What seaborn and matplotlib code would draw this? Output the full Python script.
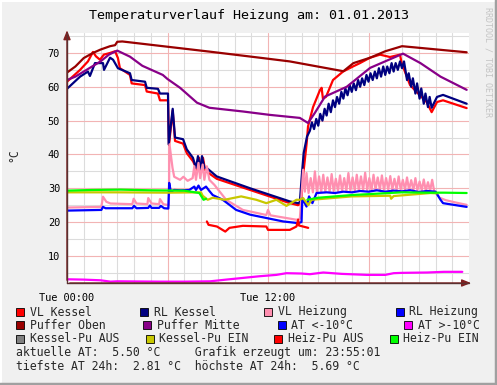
import matplotlib
matplotlib.use("Agg")
import matplotlib.pyplot as plt
import seaborn as sns
import numpy as np
from matplotlib.patches import Rectangle
from matplotlib.lines import Line2D

sns.set_theme(style="white")
plt.rcParams['font.family'] = ['DejaVu Sans Mono', 'DejaVu Sans']

# ---------------- data (hours since Tue 00:00, °C) ----------------
vlk_h = [0.0, 0.78, 1.25, 1.55, 1.73, 1.97, 2.2, 2.57, 2.87, 3.04, 3.16, 3.76, 3.86, 4.66, 4.76, 5.43, 5.55, 6.03,
         6.09, 6.31, 6.45, 6.93, 7.15, 7.52, 7.76, 7.88, 8.0, 8.12, 8.24, 8.34, 8.94, 10.93, 13.31, 13.79, 13.97,
         14.09, 14.31, 14.39, 14.69, 15.1, 15.2, 15.28, 15.46, 15.88, 16.48, 17.07, 17.49, 18.09, 18.69, 19.28,
         19.88, 19.98, 20.48, 20.87, 21.47, 21.77, 22.09, 22.45, 23.86]
vlk_v = [61.5, 65, 67.5, 70.3, 69, 68, 69.5, 70, 70.5, 68.5, 65.5, 63.5, 61, 60.5, 58.6, 58, 56, 56,
         42.8, 53, 44, 43.2, 40.4, 38, 35.5, 39, 35, 39, 35.5, 34.9, 32.8, 29.5, 25.6, 25, 25.5,
         33.5, 43.4, 48.3, 54, 59, 59.7, 56.5, 57, 62, 64.5, 66, 67, 68.6, 69.5, 68.8,
         69.5, 67, 60.5, 58.5, 55.5, 52.5, 55.5, 56, 53.7]

rlk_h = [0.0, 0.78, 1.25, 1.37, 1.67, 2.15, 2.21, 2.57, 2.75, 3.04, 3.76, 3.86, 4.66, 4.76, 5.43, 5.55, 6.03,
         6.07, 6.31, 6.45, 6.93, 7.15, 7.52, 7.7, 7.82, 7.95, 8.06, 8.2, 8.34, 8.94, 10.93, 13.31, 13.79, 13.9,
         14.03, 14.13, 14.33, 14.5, 14.62, 14.75, 14.88, 15.0, 15.12, 15.25, 15.38, 15.5, 15.62, 15.75, 15.88,
         16.0, 16.12, 16.25, 16.38, 16.5, 16.62, 16.75, 16.88, 17.0, 17.12, 17.25, 17.38, 17.5, 17.62, 17.75,
         17.88, 18.0, 18.12, 18.25, 18.38, 18.5, 18.62, 18.75, 18.88, 19.0, 19.12, 19.25, 19.38, 19.5, 19.62,
         19.75, 19.88, 20.0, 20.12, 20.3, 20.4, 20.55, 20.65, 20.8, 20.9, 21.05, 21.15, 21.3, 21.4, 21.55,
         21.65, 21.77, 22.09, 22.45, 23.86]
rlk_v = [59.4, 63, 64.5, 63.2, 67, 67, 65, 68.6, 68, 65.5, 64, 62, 61.5, 59.7, 59.4, 58, 58,
         43, 53.5, 45, 44.5, 41.5, 39, 36, 39.5, 35.5, 39.5, 36, 36, 33.5, 30, 26.1, 25.6, 25.8,
         34.5, 40.4, 45.3, 47, 49.5, 47.5, 50.5, 48.5, 52, 50, 53.5, 51.5, 55, 52.5, 56,
         54, 57, 55, 58.5, 56.5, 59.5, 57.5, 60.5, 58.5, 61, 59, 62, 60, 62.5, 60.5,
         63.5, 61.5, 64, 62, 64.5, 62.5, 65.5, 63, 66, 63.5, 66, 64, 67, 64.5, 67,
         65, 67.5, 65.5, 67.5, 62, 64, 60, 62.5, 58, 61, 56.5, 59.5, 55, 58, 54,
         57, 53.8, 57, 57.6, 55]

vlh_h = [0.0, 2.05, 2.15, 2.35, 2.6, 3.9, 3.98, 4.15, 4.8, 4.85, 5.05, 5.5, 5.55, 5.75, 6.08,
         6.12, 6.3, 6.4, 6.75, 6.95, 7.2, 7.5, 7.6, 7.7, 7.85, 7.95, 8.1, 8.2, 8.35, 8.5, 8.8, 9.5,
         10.5, 11.9, 12.0, 12.15, 13.7, 13.9,
         14.0, 14.1, 14.2, 14.3, 14.42, 14.55, 14.68, 14.8, 14.92, 15.05, 15.18, 15.3, 15.42, 15.55, 15.68,
         15.8, 15.92, 16.05, 16.18, 16.3, 16.42, 16.55, 16.68, 16.8, 16.92, 17.05, 17.18, 17.3, 17.42, 17.55,
         17.68, 17.8, 17.92, 18.05, 18.18, 18.3, 18.42, 18.55, 18.68, 18.8, 18.92, 19.05, 19.18, 19.3, 19.42,
         19.55, 19.68, 19.8, 19.92, 20.05, 20.18, 20.3, 20.42, 20.55, 20.68, 20.8, 20.92, 21.05, 21.18, 21.3,
         21.42, 21.55, 21.68, 21.8, 21.92, 22.05, 22.25, 22.6, 23.2, 23.86]
vlh_v = [24.3, 24.5, 27.5, 26, 25.5, 25.3, 26.9, 25.5, 25.3, 27.1, 25.5, 25.3, 26.8, 25.3, 25,
         43, 36, 33.4, 32.5, 33.4, 32.2, 33, 36.5, 32.5, 37.5, 33, 37, 32.5, 36.5, 32.5, 31, 26.6,
         23.6, 22.1, 23.6, 22, 20.7, 21,
         28.0, 35.5, 29.0, 34.5, 28.6, 33.0, 28.8, 35.0, 28.8, 33.5, 29.0, 34.0, 29.0, 33.2, 29.0,
         34.2, 29.2, 32.8, 29.2, 33.8, 29.2, 33.0, 29.3, 34.5, 29.3, 33.2, 29.4, 34.0, 29.4, 33.5,
         29.5, 34.6, 29.5, 33.0, 29.5, 34.0, 29.6, 33.2, 29.6, 33.8, 29.6, 33.0, 29.6, 33.6, 29.6,
         32.8, 29.6, 33.5, 29.6, 32.5, 29.6, 33.2, 29.5, 32.4, 29.5, 33.0, 29.4, 32.0, 29.4, 32.6,
         29.3, 31.8, 29.3, 32.5, 29.2, 28.5, 27.2, 26.5, 25.8, 25.1]

rlh_h = [0.0, 2.05, 2.15, 2.3, 3.9, 4.0, 4.15, 4.85, 4.95, 5.05, 5.5, 5.6, 5.8, 6.05, 6.1, 6.2, 6.4, 6.8,
         7.3, 7.6, 7.7, 7.85, 8.0, 8.3, 8.5, 8.7, 9.3, 10.1, 10.93, 12.9, 13.8, 14.0, 14.05, 14.3, 14.45,
         14.65, 14.9, 15.5, 16.0, 16.5, 17.0, 17.5, 18.0, 18.5, 19.0, 19.5, 20.0, 20.5, 21.0, 21.5, 22.0,
         22.3, 22.45, 23.86]
rlh_v = [23.4, 23.6, 24.5, 24.1, 24.1, 24.8, 24.1, 24.2, 24.9, 24.2, 24.2, 24.8, 24.1, 24.0, 31.6, 29, 29.5, 29.4,
         29.5, 30.5, 29.5, 30.8, 29.5, 30.5, 29.2, 28, 26.6, 23.6, 22.2, 20.2, 19.7, 20, 27, 24.6, 27.6,
         25.6, 28.6, 28.8, 28.6, 29.0, 28.8, 29.2, 29.0, 29.4, 29.0, 29.3, 29.1, 29.4, 28.9, 29.2, 29.0,
         26.6, 25.6, 24.5]

po_h = [0.0, 0.5, 1.0, 1.55, 2.0, 2.57, 2.87, 3.0, 3.3, 8.5, 11.5, 13.3, 16.5, 16.6, 17.1, 18.1, 19.0, 20.0, 23.86]
po_v = [64.2, 66, 68.5, 70, 71, 72, 72.3, 73.3, 73.4, 70.4, 68.6, 67.5, 64.6, 65, 67, 68.6, 70.5, 72, 70.2]

pm_h = [0.0, 0.5, 1.0, 1.5, 2.0, 2.5, 3.0, 3.76, 4.5, 5.72, 6.0, 6.75, 7.76, 8.5, 10.5, 12.1, 13.9, 14.39,
        14.8, 15.4, 16.7, 18.1, 20.06, 21.1, 22.3, 23.86]
pm_v = [62, 63, 64.5, 66, 67.5, 69.5, 70.7, 68.9, 66.2, 63.5, 62.3, 59.7, 55.3, 53.8, 52.7, 51.7, 50.8, 49.3,
        52.3, 57.1, 60, 65.6, 69.8, 67, 63, 59.1]

at_h = [0.0, 1.0, 2.0, 2.6, 3.0, 5.55, 7.0, 8.55, 9.5, 10.5, 11.5, 12.5, 13.1, 14.0, 14.5, 15.3, 16.4, 17.9,
        19.0, 19.5, 20.0, 21.5, 22.5, 23.6]
at_v = [3.1, 3.0, 2.8, 2.4, 2.5, 2.4, 2.4, 2.5, 3.0, 3.5, 4.0, 4.4, 4.9, 4.8, 4.6, 5.1, 4.7, 4.4,
        4.4, 4.9, 5.0, 5.1, 5.3, 5.3]

kpe_h = [0.0, 3.0, 6.0, 8.0, 8.1, 8.4, 8.7, 9.4, 10.4, 11.3, 11.9, 12.5, 13.1, 13.7, 13.9, 14.1, 14.4,
         14.6, 17.0, 19.3, 19.35, 19.5, 21.7, 22.1]
kpe_v = [28.8, 28.8, 28.7, 28.8, 27.8, 26.6, 27.2, 26.6, 27.6, 26.6, 25.6, 26.6, 24.8, 26.6, 26.6, 27.1, 25.0,
         26.6, 27.6, 27.8, 26.9, 27.7, 28.6, 28.5]

hpa_h = [8.35, 8.45, 8.95, 9.45, 9.7, 10.5, 11.9, 12.0, 13.3, 13.7, 13.8, 13.85, 14.4]
hpa_v = [20.2, 19.2, 18.7, 17.2, 18.3, 18.9, 18.7, 17.7, 17.7, 18.7, 20.7, 19.0, 18.3]

hpe1_h = [0.0, 1.5, 3.2, 5.0, 7.0, 7.9, 8.15, 8.3]
hpe1_v = [29.3, 29.5, 29.6, 29.4, 29.3, 28.6, 26.6, 26.9]
hpe2_h = [14.35, 15.0, 16.0, 17.0, 18.5, 20.0, 21.5, 22.5, 23.86]
hpe2_v = [26.6, 27.2, 27.6, 28.0, 28.4, 28.8, 28.7, 28.7, 28.6]

legend_labels = ["VL Kessel", "RL Kessel", "VL Heizung", "RL Heizung",
                 "Puffer Oben", "Puffer Mitte", "AT <-10°C", "AT >-10°C",
                 "Kessel-Pu AUS", "Kessel-Pu EIN", "Heiz-Pu AUS", "Heiz-Pu EIN"]
legend_colors = ["#ff0000", "#000080", "#ff8fb0", "#0000ff",
                 "#990000", "#880088", "#0000ff", "#ff00ff",
                 "#808080", "#c8c800", "#ff0000", "#00ff00"]

x_tick_pos = [0, 12]
x_tick_lab = ["Tue 00:00", "Tue 12:00"]
y_ticks = [10, 20, 30, 40, 50, 60, 70]

# ---------------- figure ----------------
W, H = 497, 385
fig = plt.figure(figsize=(W / 100, H / 100), dpi=100)
fig.patch.set_facecolor("#f0f0f0")

def fx(x):
    return x / W

def fy(y):
    return 1 - y / H

ax = fig.add_axes([fx(67), fy(283), (469 - 67) / W, (283 - 33) / H])
ax.set_facecolor("white")
ax.set_xlim(0, 24)
ax.set_ylim(2.0, 75.9)

# grid
for h in range(0, 25):
    if h % 6 == 0:
        continue
    ax.axvline(h, color="#dcdcdc", lw=0.8, zorder=0)
for v in range(5, 76, 10):
    ax.axhline(v, color="#dcdcdc", lw=0.8, zorder=0)
for h in [6, 12, 18]:
    ax.axvline(h, color="#f2b4b4", lw=0.8, zorder=0.5)
for v in range(10, 76, 10):
    ax.axhline(v, color="#f2b4b4", lw=0.8, zorder=0.5)

lw = 1.6
series = [
    (vlk_h, vlk_v, legend_colors[0]),
    (rlk_h, rlk_v, legend_colors[1]),
    (vlh_h, vlh_v, legend_colors[2]),
    (rlh_h, rlh_v, legend_colors[3]),
    (po_h, po_v, legend_colors[4]),
    (pm_h, pm_v, legend_colors[5]),
    (at_h, at_v, legend_colors[7]),
    (kpe_h, kpe_v, legend_colors[9]),
    (hpa_h, hpa_v, legend_colors[10]),
    (hpe1_h, hpe1_v, legend_colors[11]),
    (hpe2_h, hpe2_v, legend_colors[11]),
]
for xs, ys, c in series:
    sns.lineplot(x=xs, y=ys, ax=ax, color=c, linewidth=lw, sort=False, estimator=None)

for s in ax.spines.values():
    s.set_visible(False)

ax.set_xticks(x_tick_pos)
ax.set_xticklabels(x_tick_lab, fontsize=7.4)
ax.set_yticks(y_ticks)
ax.set_yticklabels([str(v) for v in y_ticks], fontsize=7.4)
ax.tick_params(axis="both", length=0, pad=5, colors="#000000")
ax.tick_params(axis="x", pad=7)
ax.set_xlabel("")
ax.set_ylabel("")

# axes with arrows
arrow_c = "#802020"
ax.annotate("", xy=(0, 1.022), xytext=(0, 0), xycoords="axes fraction",
            arrowprops=dict(arrowstyle="-|>,head_length=0.45,head_width=0.18", color=arrow_c, lw=1.0),
            annotation_clip=False)
ax.annotate("", xy=(1.012, 0), xytext=(0, 0), xycoords="axes fraction",
            arrowprops=dict(arrowstyle="-|>,head_length=0.45,head_width=0.18", color=arrow_c, lw=1.0),
            annotation_clip=False)
ax.plot([0, 0], [0, 1], transform=ax.transAxes, color="#5a3030", lw=1.0, clip_on=False, zorder=5)
ax.plot([0, 1], [0, 0], transform=ax.transAxes, color="#5a3030", lw=1.0, clip_on=False, zorder=5)

# title etc.
fig.text(fx(249), fy(16), "Temperaturverlauf Heizung am: 01.01.2013", ha="center", va="center",
         fontsize=9.6, color="#000000")
fig.text(fx(14), fy(155), "°C", rotation=90, ha="center", va="center", fontsize=8.3)
fig.text(fx(488), fy(62), "RRDTOOL / TOBI OETIKER", rotation=270, ha="center", va="center",
         fontsize=6.0, color="#c4c4c4")

# legend
rows_y = [312, 325.3, 339]
box_x = [[16, 140, 264.3, 396], [16, 143.3, 277.7, 404.3], [16, 145.7, 274.3, 390]]
txt_x = [[30, 154, 278.3, 409], [30, 157.3, 291, 417.7], [30, 159.3, 288.3, 403.3]]
for r in range(3):
    for c in range(4):
        i = r * 4 + c
        bx, by = box_x[r][c], rows_y[r] - 4
        fig.patches.append(Rectangle((fx(bx), fy(by + 8)), 8 / W, 8 / H, transform=fig.transFigure,
                                     facecolor=legend_colors[i], edgecolor="#000000", lw=0.6))
        fig.text(fx(txt_x[r][c]), fy(rows_y[r]), legend_labels[i], ha="left", va="center", fontsize=8.3)

fig.text(fx(16), fy(352.7), "aktuelle AT:  5.50 °C     Grafik erzeugt um: 23:55:01",
         ha="left", va="center", fontsize=8.3)
fig.text(fx(16), fy(367), "tiefste AT 24h:  2.81 °C  höchste AT 24h:  5.69 °C",
         ha="left", va="center", fontsize=8.3)

# frame around the image
fig.lines.append(Line2D([fx(0.5), fx(W - 1)], [fy(0.5), fy(0.5)], transform=fig.transFigure, color="#ffffff", lw=1.5))
fig.lines.append(Line2D([fx(0.5), fx(0.5)], [fy(0.5), fy(H - 1)], transform=fig.transFigure, color="#ffffff", lw=1.5))
fig.lines.append(Line2D([fx(W - 1.5), fx(W - 1.5)], [fy(0), fy(H)], transform=fig.transFigure, color="#a0a0a0", lw=2.5))
fig.lines.append(Line2D([fx(0), fx(W)], [fy(H - 1.5), fy(H - 1.5)], transform=fig.transFigure, color="#a0a0a0", lw=2.5))

fig.savefig("out.png", dpi=100, facecolor=fig.get_facecolor())
